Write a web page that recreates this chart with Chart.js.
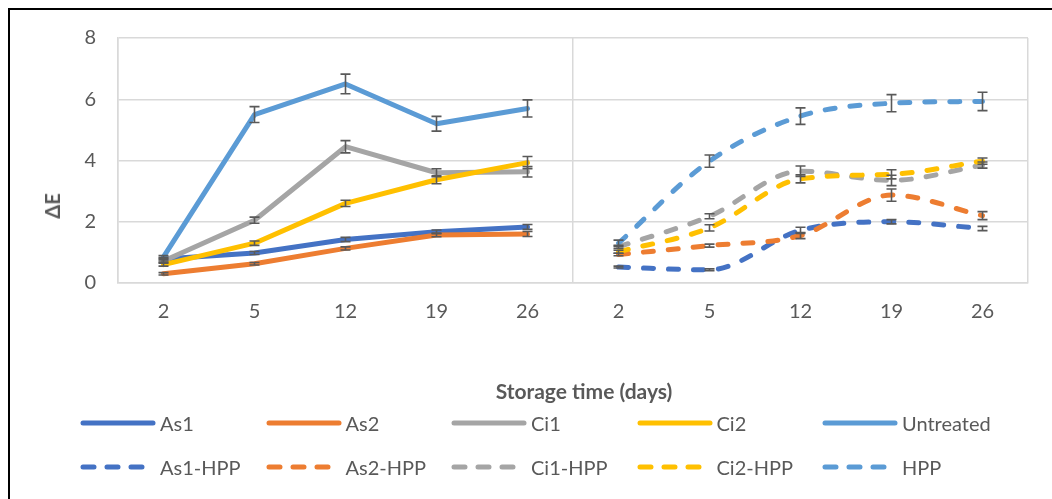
<!DOCTYPE html>
<html>
<head>
<meta charset="utf-8">
<script src="https://cdn.jsdelivr.net/npm/chart.js@4.4.1/dist/chart.umd.min.js"></script>
<style>
  html, body { margin: 0; padding: 0; background: #fff; }
  #wrap { position: relative; width: 1052px; height: 499px; overflow: hidden; background: #fff;
          font-family: Lato, "Noto Sans", sans-serif; color: #595959; }
  #frame { position: absolute; left: 8px; top: 8px; width: 1100px; height: 600px;
           border-left: 2px solid #000; border-top: 2px solid #000; }
  #c { position: absolute; left: 0; top: 0; }
  #ytitle { position: absolute; left: 52px; top: 206px; transform: translate(-50%, -50%) rotate(-90deg);
            font-weight: bold; font-size: 20px; white-space: nowrap; }
  #xtitle { position: absolute; left: 584px; top: 390px; transform: translate(-50%, -50%);
            font-weight: bold; font-size: 21px; white-space: nowrap; }
  .lg { position: absolute; height: 24px; display: flex; align-items: center; font-size: 20px; white-space: nowrap; }
  .lg svg { width: 76px; height: 10px; margin-right: 4px; }
</style>
</head>
<body>
<div id="wrap">
  <div id="frame"></div>
  <canvas id="c" width="1052" height="499"></canvas>
  <div id="ytitle">ΔE</div>
  <div id="xtitle">Storage time (days)</div>
  <div id="legend"></div>
</div>
<script>
// Storage days, shown twice: untreated/additive group, then HPP group
const days = ['2', '5', '12', '19', '26'];

// Mean colour difference (ΔE) and standard deviation per series
const as1 = [0.78, 0.98, 1.42, 1.67, 1.83];
const as1Err = [0.06, 0.05, 0.07, 0.06, 0.08];
const as2 = [0.30, 0.63, 1.13, 1.57, 1.60];
const as2Err = [0.04, 0.04, 0.05, 0.06, 0.08];
const ci1 = [0.72, 2.05, 4.45, 3.60, 3.63];
const ci1Err = [0.05, 0.10, 0.20, 0.13, 0.17];
const ci2 = [0.60, 1.30, 2.60, 3.37, 3.93];
const ci2Err = [0.05, 0.07, 0.10, 0.13, 0.20];
const untreated = [0.85, 5.50, 6.50, 5.20, 5.70];
const untreatedErr = [0.05, 0.26, 0.32, 0.24, 0.28];

const as1Hpp = [0.52, 0.43, 1.72, 2.00, 1.78];
const as1HppErr = [0.03, 0.03, 0.10, 0.07, 0.07];
const as2Hpp = [0.93, 1.22, 1.55, 2.87, 2.20];
const as2HppErr = [0.04, 0.05, 0.10, 0.20, 0.13];
const ci1Hpp = [1.18, 2.18, 3.65, 3.35, 3.85];
const ci1HppErr = [0.05, 0.08, 0.17, 0.17, 0.10];
const ci2Hpp = [1.02, 1.80, 3.40, 3.55, 3.98];
const ci2HppErr = [0.05, 0.10, 0.13, 0.15, 0.10];
const hpp = [1.30, 3.98, 5.45, 5.87, 5.93];
const hppErr = [0.10, 0.20, 0.27, 0.28, 0.30];

const yTicks = [0, 2, 4, 6, 8];

const C = { blue: '#4472C4', orange: '#ED7D31', gray: '#A5A5A5', gold: '#FFC000', sky: '#5B9BD5' };
const empty = [null, null, null, null, null];
const labels = days.concat(days);

function solid(label, color, vals, errs) {
  return { label, data: vals.concat(empty), errors: errs.concat(empty), borderColor: color,
           backgroundColor: color, borderWidth: 5, pointRadius: 0, tension: 0, dashed: false,
           borderCapStyle: 'round', borderJoinStyle: 'round', spanGaps: false };
}
function dashed(label, color, vals, errs) {
  return { label, data: empty.concat(vals), errors: empty.concat(errs), borderColor: color,
           backgroundColor: color, borderWidth: 5, pointRadius: 0, cubicInterpolationMode: 'monotone',
           dashed: true, borderDash: [10, 15], borderCapStyle: 'round', borderJoinStyle: 'round', spanGaps: false };
}

const datasets = [
  solid('As1', C.blue, as1, as1Err),
  solid('As2', C.orange, as2, as2Err),
  solid('Ci1', C.gray, ci1, ci1Err),
  solid('Ci2', C.gold, ci2, ci2Err),
  solid('Untreated', C.sky, untreated, untreatedErr),
  dashed('As1-HPP', C.blue, as1Hpp, as1HppErr),
  dashed('As2-HPP', C.orange, as2Hpp, as2HppErr),
  dashed('Ci1-HPP', C.gray, ci1Hpp, ci1HppErr),
  dashed('Ci2-HPP', C.gold, ci2Hpp, ci2HppErr),
  dashed('HPP', C.sky, hpp, hppErr)
];
// later series are painted over earlier ones
datasets.forEach((d, i) => { d.order = datasets.length - i; });

// vertical error bars with short caps, drawn through the y scale
const errorBars = {
  id: 'errorBars',
  afterDatasetsDraw(chart) {
    const ctx = chart.ctx;
    const y = chart.scales.y;
    ctx.save();
    ctx.strokeStyle = '#595959';
    ctx.lineWidth = 1.6;
    chart.data.datasets.forEach((ds, i) => {
      const meta = chart.getDatasetMeta(i);
      ds.data.forEach((v, j) => {
        const e = ds.errors[j];
        if (v === null || e === null) return;
        const x = meta.data[j].x;
        const top = y.getPixelForValue(v + e);
        const bot = y.getPixelForValue(v - e);
        ctx.beginPath();
        ctx.moveTo(x, top); ctx.lineTo(x, bot);
        ctx.moveTo(x - 5, top); ctx.lineTo(x + 5, top);
        ctx.moveTo(x - 5, bot); ctx.lineTo(x + 5, bot);
        ctx.stroke();
      });
    });
    ctx.restore();
  }
};

const gridColor = '#D9D9D9';
const chart = new Chart(document.getElementById('c'), {
  type: 'line',
  data: { labels, datasets },
  plugins: [errorBars],
  options: {
    responsive: false,
    animation: false,
    layout: { padding: { left: 0, top: 38, right: 24, bottom: 0 } },
    plugins: { legend: { display: false }, tooltip: { enabled: false } },
    scales: {
      x: {
        type: 'category',
        offset: true,
        grid: {
          offset: true,
          drawTicks: false,
          lineWidth: 1.5,
          color: (c) => (c.index === 0 || c.index === 5 || c.index === undefined) ? gridColor : 'rgba(0,0,0,0)'
        },
        border: { display: true, color: gridColor, width: 1.5 },
        ticks: { color: '#595959', font: { family: 'Lato', size: 20 }, padding: 17, maxRotation: 0, autoSkip: false },
        afterFit: (s) => { s.height = 499 - 283; }
      },
      y: {
        min: 0, max: 8,
        afterBuildTicks: (s) => { s.ticks = yTicks.map(v => ({ value: v })); },
        grid: { color: gridColor, lineWidth: 1.5, drawTicks: false },
        border: { display: true, color: gridColor, width: 1.5 },
        ticks: { color: '#595959', font: { family: 'Lato', size: 20 }, padding: 22 },
        afterFit: (s) => { s.width = 118; }
      }
    }
  }
});

// legend: two rows of five, solid series on top, HPP series below
const legend = document.getElementById('legend');
chart.data.datasets.forEach((ds, i) => {
  const col = i % 5, row = Math.floor(i / 5);
  const item = document.createElement('div');
  item.className = 'lg';
  item.style.left = (80 + col * 185.5) + 'px';
  item.style.top = (row === 0 ? 411 : 455) + 'px';
  const dash = ds.dashed ? ' stroke-dasharray="11 13"' : '';
  const x2 = ds.dashed ? 62 : 73;
  item.innerHTML = '<svg viewBox="0 0 76 10"><line x1="3" y1="5" x2="' + x2 + '" y2="5" stroke="' + ds.borderColor +
    '" stroke-width="5" stroke-linecap="round"' + dash + '/></svg><span></span>';
  item.querySelector('span').textContent = ds.label;
  legend.appendChild(item);
});
</script>
</body>
</html>
